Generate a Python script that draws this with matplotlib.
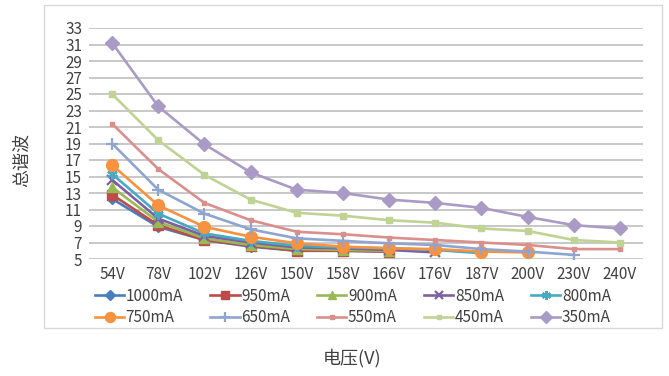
import numpy as np
import matplotlib
matplotlib.use("Agg")
from matplotlib import pyplot as plt
from matplotlib.patches import Rectangle

plt.rcParams["font.family"] = ["Noto Sans CJK SC", "DejaVu Sans"]

voltages = ["54V", "78V", "102V", "126V", "150V", "158V", "166V",
            "176V", "187V", "200V", "230V", "240V"]

thd_1000 = [12.3, 8.9, 7.3, 6.5, 6.0, 6.0, 5.9]
thd_950 = [12.8, 9.1, 7.3, 6.6, 6.0, 6.0, 5.9]
thd_900 = [13.7, 9.5, 7.5, 6.7, 6.2, 6.1, 6.0]
thd_850 = [14.6, 9.9, 7.8, 7.0, 6.4, 6.3, 6.1, 5.8]
thd_800 = [15.3, 10.5, 8.1, 7.2, 6.6, 6.4, 6.3, 6.1, 5.7]
thd_750 = [16.4, 11.5, 8.9, 7.7, 6.9, 6.5, 6.3, 6.2, 5.9, 5.8]
thd_650 = [19.0, 13.4, 10.5, 8.6, 7.5, 7.2, 6.9, 6.7, 6.2, 5.9, 5.5]
thd_550 = [21.4, 15.9, 11.8, 9.7, 8.3, 8.0, 7.6, 7.3, 7.0, 6.7, 6.2, 6.2]
thd_450 = [25.0, 19.4, 15.2, 12.2, 10.6, 10.25, 9.7, 9.4, 8.7, 8.4, 7.3, 7.0]
thd_350 = [31.2, 23.5, 18.9, 15.5, 13.4, 13.0, 12.2, 11.8, 11.2, 10.1, 9.1, 8.7]

series = [
    ("1000mA", thd_1000, "#4A7EBB", "D", 5.5),
    ("950mA", thd_950, "#BE4B48", "s", 6.5),
    ("900mA", thd_900, "#98B954", "^", 7),
    ("850mA", thd_850, "#7D60A0", "x", 6.5),
    ("800mA", thd_800, "#46AAC5", (6, 2, 0), 7.5),
    ("750mA", thd_750, "#F69240", "o", 8.5),
    ("650mA", thd_650, "#8EA5D1", "+", 8.5),
    ("550mA", thd_550, "#DA8F8C", "s", 3.5),
    ("450mA", thd_450, "#BED394", "s", 4),
    ("350mA", thd_350, "#A99BC6", "D", 7),
]

fig = plt.figure(figsize=(6.69, 3.76), dpi=100)
fig.patches.append(Rectangle((44 / 669, 1 - 328 / 376), 618 / 669, 323 / 376,
                             transform=fig.transFigure, fill=False,
                             edgecolor="#D9D9D9", linewidth=1.0))

ax = fig.add_axes([89 / 669, 1 - 259 / 376, 554 / 669, 231 / 376])
x = np.arange(len(voltages))

lines = {}
for name, vals, color, marker, ms in series:
    mew = 1.6 if marker in ("x", "+") or isinstance(marker, tuple) else 1.0
    line, = ax.plot(x[:len(vals)], vals, color=color, linewidth=1.9,
                    marker=marker, markersize=ms, markeredgewidth=mew,
                    markeredgecolor=color, label=name, zorder=3)
    lines[name] = line

ax.set_xlim(-0.5, len(voltages) - 0.5)
ax.set_ylim(5, 33)
ax.set_yticks(np.arange(5, 34, 2))
ax.set_xticks(x)
ax.set_xticklabels(voltages)
ax.grid(axis="y", color="#BFBFBF", linewidth=1.2)
ax.set_axisbelow(True)
for s in ax.spines.values():
    s.set_visible(False)
ax.tick_params(length=0, labelsize=11, labelcolor="#404040", pad=5)
ax.tick_params(axis="x", pad=5)

fig.text(22 / 669, 1 - 160 / 376, "总谐波", rotation=90, ha="center",
         va="center", fontsize=13, color="#404040")
fig.text(352 / 669, 1 - 358 / 376, "电压(V)", ha="center", va="center",
         fontsize=13, color="#404040")

# legend fills column by column, so interleave the two rows
names = [s[0] for s in series]
order = [names[i + r * 5] for i in range(5) for r in range(2)]
leg = fig.legend([lines[n] for n in order], order, loc="center",
                 bbox_to_anchor=(353 / 669, 1 - 307 / 376),
                 ncol=5, frameon=False, fontsize=11, handlelength=1.9,
                 handletextpad=0.1, columnspacing=1.8, labelspacing=0.3,
                 markerscale=0.85, borderpad=0.2)
for t in leg.get_texts():
    t.set_color("#404040")

fig.savefig("out.png", dpi=100)
